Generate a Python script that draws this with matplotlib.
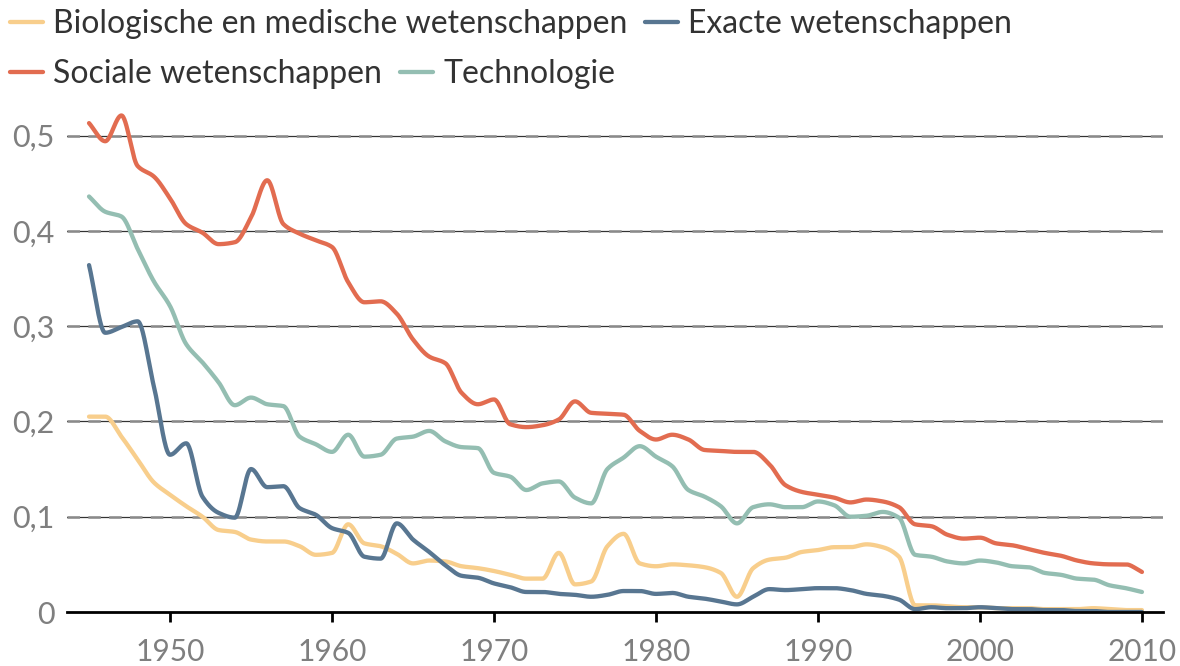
import numpy as np
import matplotlib
matplotlib.use("Agg")
import matplotlib.pyplot as plt
from matplotlib.lines import Line2D

plt.rcParams['font.family'] = ['Lato', 'DejaVu Sans']
plt.rcParams['lines.scale_dashes'] = False

years = list(range(1945, 2011))

sociale = [0.513, 0.494, 0.521, 0.468, 0.457, 0.434, 0.407, 0.398, 0.386, 0.388,
           0.414, 0.453, 0.407, 0.397, 0.390, 0.383, 0.346, 0.325, 0.326, 0.313,
           0.286, 0.268, 0.261, 0.230, 0.218, 0.223, 0.197, 0.194, 0.196, 0.202,
           0.221, 0.209, 0.208, 0.207, 0.190, 0.181, 0.186, 0.181, 0.170, 0.169,
           0.168, 0.168, 0.155, 0.133, 0.126, 0.123, 0.120, 0.115, 0.118, 0.116,
           0.110, 0.092, 0.090, 0.081, 0.077, 0.078, 0.072, 0.070, 0.066, 0.062,
           0.059, 0.054, 0.051, 0.050, 0.050, 0.042]

technologie = [0.436, 0.420, 0.415, 0.381, 0.347, 0.321, 0.281, 0.262, 0.241, 0.217,
               0.225, 0.218, 0.216, 0.184, 0.176, 0.168, 0.186, 0.163, 0.165, 0.182,
               0.184, 0.190, 0.179, 0.173, 0.172, 0.146, 0.142, 0.128, 0.135, 0.137,
               0.120, 0.114, 0.150, 0.162, 0.174, 0.163, 0.153, 0.128, 0.121, 0.111,
               0.093, 0.110, 0.113, 0.110, 0.110, 0.116, 0.112, 0.100, 0.101, 0.105,
               0.099, 0.060, 0.058, 0.053, 0.051, 0.054, 0.052, 0.048, 0.047, 0.041,
               0.039, 0.035, 0.034, 0.028, 0.025, 0.021]

exacte = [0.364, 0.293, 0.299, 0.305, 0.237, 0.165, 0.177, 0.121, 0.104, 0.099,
          0.150, 0.131, 0.132, 0.109, 0.102, 0.088, 0.083, 0.058, 0.056, 0.093,
          0.076, 0.063, 0.049, 0.038, 0.036, 0.030, 0.026, 0.021, 0.021, 0.019,
          0.018, 0.016, 0.018, 0.022, 0.022, 0.019, 0.020, 0.016, 0.014, 0.011,
          0.008, 0.016, 0.024, 0.023, 0.024, 0.025, 0.025, 0.023, 0.019, 0.017,
          0.013, 0.003, 0.005, 0.004, 0.004, 0.005, 0.004, 0.003, 0.003, 0.002,
          0.002, 0.001, 0.001, 0.000, 0.000, 0.000]

biologische = [0.205, 0.205, 0.184, 0.160, 0.136, 0.123, 0.111, 0.100, 0.086, 0.084,
               0.076, 0.074, 0.074, 0.069, 0.060, 0.062, 0.092, 0.072, 0.069, 0.061,
               0.051, 0.054, 0.053, 0.048, 0.046, 0.043, 0.039, 0.035, 0.035, 0.062,
               0.029, 0.032, 0.069, 0.082, 0.051, 0.048, 0.050, 0.049, 0.047, 0.041,
               0.016, 0.046, 0.055, 0.057, 0.063, 0.065, 0.068, 0.068, 0.071, 0.068,
               0.058, 0.007, 0.007, 0.006, 0.005, 0.005, 0.004, 0.004, 0.004, 0.003,
               0.003, 0.003, 0.004, 0.003, 0.002, 0.002]

series_names = ["Biologische en medische wetenschappen", "Exacte wetenschappen",
                "Sociale wetenschappen", "Technologie"]
series_values = [biologische, exacte, sociale, technologie]
colors = ["#F8CE8C", "#587691", "#E26C50", "#94BEB2"]

y_ticks = [0, 0.1, 0.2, 0.3, 0.4, 0.5]
y_tick_labels = ["0", "0,1", "0,2", "0,3", "0,4", "0,5"]
x_ticks = [1950, 1960, 1970, 1980, 1990, 2000, 2010]
x_tick_labels = ["1950", "1960", "1970", "1980", "1990", "2000", "2010"]


def monotone(x, y, xs):
    x = np.asarray(x, float); y = np.asarray(y, float)
    h = np.diff(x); d = np.diff(y) / h
    n = len(x)
    m = np.zeros(n)
    for k in range(1, n - 1):
        if d[k - 1] * d[k] <= 0:
            m[k] = 0.0
        else:
            w1 = 2 * h[k] + h[k - 1]
            w2 = h[k] + 2 * h[k - 1]
            m[k] = (w1 + w2) / (w1 / d[k - 1] + w2 / d[k])
    m[0] = d[0]; m[-1] = d[-1]
    idx = np.clip(np.searchsorted(x, xs) - 1, 0, n - 2)
    t = (xs - x[idx]) / h[idx]
    h00 = 2 * t**3 - 3 * t**2 + 1
    h10 = t**3 - 2 * t**2 + t
    h01 = -2 * t**3 + 3 * t**2
    h11 = t**3 - t**2
    return h00 * y[idx] + h10 * h[idx] * m[idx] + h01 * y[idx + 1] + h11 * h[idx] * m[idx + 1]


W, H = 1180, 666
fig = plt.figure(figsize=(W / 100, H / 100), dpi=100)
left, right, bottom_px, top_y = 67, 1163, 612, 0.53
ymax_px = 612 - top_y * 953
ax = fig.add_axes([left / W, (H - bottom_px) / H, (right - left) / W, (bottom_px - ymax_px) / H])
ax.set_xlim(1943.64, 2011.3)
ax.set_ylim(0, top_y)

# grid lines
for v in y_ticks[1:]:
    ax.axhline(v, color="#333333", lw=0.9, zorder=1)
    ax.axhline(v, color="#8a8a8a", lw=1.8, dashes=(9, 6), zorder=1.1)

xs = np.linspace(years[0], years[-1], 2000)
for name, vals, c in zip(series_names, series_values, colors):
    ax.plot(xs, monotone(years, vals, xs), color=c, lw=3.1, solid_capstyle="round",
            solid_joinstyle="round", zorder=3, label=name)

for s in ["top", "right", "left"]:
    ax.spines[s].set_visible(False)
ax.spines["bottom"].set_color("black")
ax.spines["bottom"].set_linewidth(2)
ax.spines["bottom"].set_zorder(4)

ax.set_yticks(y_ticks)
ax.set_yticklabels(y_tick_labels)
ax.set_xticks(x_ticks)
ax.set_xticklabels(x_tick_labels)
ax.tick_params(axis="y", length=0, pad=9, labelsize=22, labelcolor="#7f7f7f")
ax.tick_params(axis="x", length=7.5, width=2, color="black", pad=11, labelsize=21.5,
               labelcolor="#7f7f7f", direction="out")

# legend (flow layout)
legend_items = [
    (0, 10, 43, 53, 33),
    (1, 645, 678, 688, 33),
    (2, 10, 43, 53, 83),
    (3, 400, 433, 443, 83),
]
for i, x0, x1, tx, base in legend_items:
    ly = base - 11
    fig.add_artist(Line2D([x0 / W, x1 / W], [1 - ly / H, 1 - ly / H], color=colors[i],
                          lw=3.1, solid_capstyle="round", transform=fig.transFigure))
    fig.text(tx / W, 1 - base / H, series_names[i], fontsize=23, color="#333333",
             va="baseline", ha="left")

fig.savefig("out.png", dpi=100)
